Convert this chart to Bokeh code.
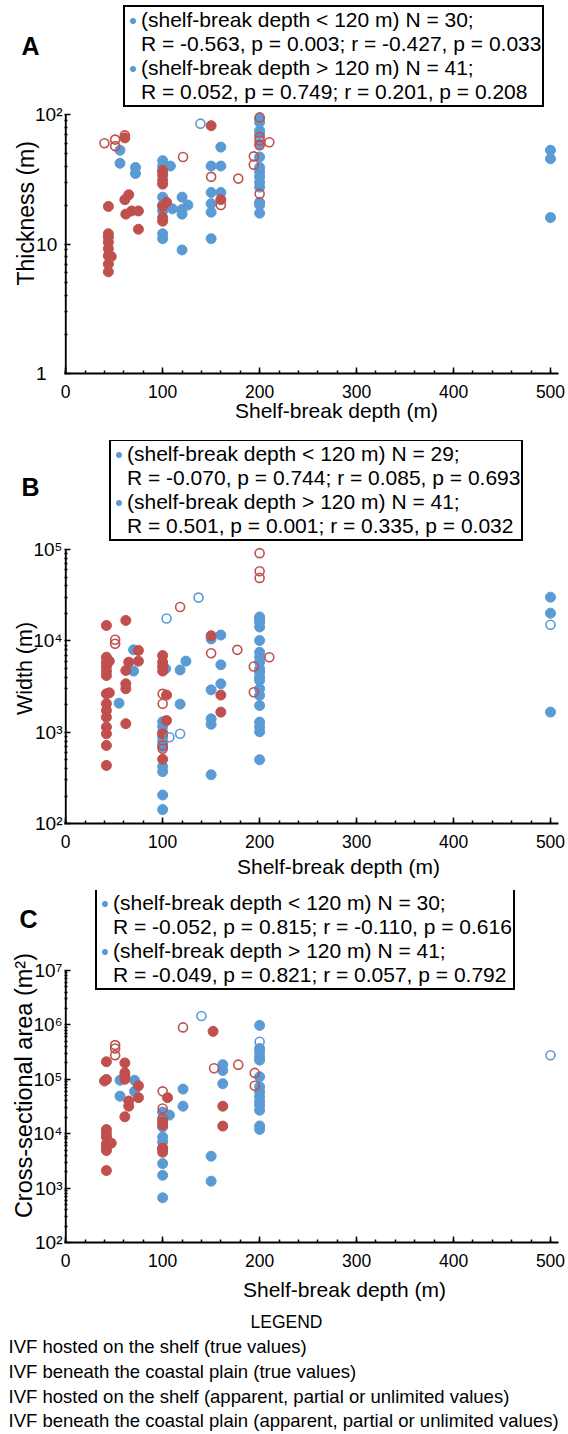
import math
from bokeh.plotting import figure
from bokeh.models import (Range1d, FixedTicker, Legend, LegendItem, Title, LogAxis,
                          CustomJSTickFormatter)
from bokeh.layouts import column
from bokeh.embed import file_html
from bokeh.resources import INLINE

BLUE = "#5B9BD5"
RED = "#C0504D"
FONT = "Liberation Sans"

# ---------------- Panel A: Thickness (m) ----------------
a_shelf_true_x = [56, 56, 72, 72, 100, 100, 100, 100, 100, 100, 100, 100, 108, 110,
                  120, 120, 120, 120, 126, 150, 150, 150, 150, 150, 160, 160, 160,
                  200, 200, 200, 200, 200, 200, 200, 200, 200, 200, 200, 200, 200, 200,
                  500, 500, 500]
a_shelf_true_y = [53, 42, 39, 35, 44, 40, 36, 23, 20, 18, 12, 11, 40, 18.7,
                  23, 17, 9, 18.5, 20, 40, 25, 20.5, 17.6, 11, 56, 40, 25,
                  93, 87, 75, 71, 59, 47, 39, 36, 33, 30, 27.5, 21, 20, 17.3,
                  53, 45.5, 16]
a_coast_true_x = [44, 44, 44, 44, 44, 44, 44, 44, 47, 61, 65, 61, 62, 68, 75, 75,
                  100, 100, 100, 100, 100, 100, 100, 104, 150, 160]
a_coast_true_y = [19.5, 12, 11.3, 10.3, 9.2, 8.1, 7.0, 6.1, 8, 66, 24, 22, 17, 18, 18, 13,
                  37, 34, 31, 29, 19.5, 16, 15, 21, 82, 22]
a_shelf_app_x = [139]
a_shelf_app_y = [85]
a_coast_app_x = [40, 51, 51, 61, 121, 150, 160, 178, 194, 194, 200, 200, 200, 200, 200, 210]
a_coast_app_y = [60, 64, 57, 69, 47, 33, 20, 32, 47.5, 41, 95, 67, 63, 58, 24.4, 61]

# ---------------- Panel B: Width (m) ----------------
b_shelf_true_x = [55, 70, 70, 100, 100, 100, 100, 100, 100, 100, 100, 100, 100,
                  103, 118, 118, 124, 150, 150, 150, 150, 150, 160, 160, 160,
                  200, 200, 200, 200, 200, 200, 200, 200, 200, 200, 200, 200, 200, 200,
                  200, 200, 200, 200, 200, 500, 500, 500]
b_shelf_true_y = [2080, 7980, 4670, 1300, 1150, 1000, 880, 780, 690, 420, 370, 205, 142,
                  4950, 4800, 2030, 6000, 10500, 2910, 1400, 1220, 342, 11600, 5470, 3390,
                  18300, 17450, 16100, 14200, 10100, 7520, 6630, 5850, 4950, 4540, 4000, 3680, 2990, 2530,
                  1960, 1290, 1140, 1010, 500, 30100, 20100, 1660]
b_coast_true_x = [42, 42, 42, 42, 42, 42, 42, 42, 42, 42, 42, 42, 42, 42, 45, 45,
                  62, 62, 62, 62, 62, 65, 75, 75, 100, 100, 100, 100, 100, 100, 104, 104,
                  150, 160, 160]
b_coast_true_y = [14750, 6630, 5850, 5250, 4670, 4180, 2630, 2050, 1730, 1460, 1140, 960, 716, 433, 6000, 2700,
                  16750, 4740, 3390, 2990, 1240, 5850, 7850, 6000, 6900, 5850, 5250, 4670, 960, 505, 2550, 1340,
                  11400, 2550, 1660]
b_shelf_app_x = [104, 107, 118, 137, 500]
b_shelf_app_y = [17600, 880, 960, 29800, 15000]
b_coast_app_x = [51, 51, 100, 100, 100, 100, 118, 150, 177, 194, 194, 200, 200, 200, 210]
b_coast_app_y = [10280, 9300, 2630, 2050, 716, 658, 23500, 7330, 7980, 5250, 2740, 91400, 58000, 49000, 6630]

# ---------------- Panel C: Cross-sectional area (m2) ----------------
c_shelf_true_x = [56, 56, 71, 71, 100, 100, 100, 100, 100, 100, 100, 100, 100, 107,
                  121, 121, 150, 150, 162, 162, 162,
                  200, 200, 200, 200, 200, 200, 200, 200, 200, 200, 200, 200, 200, 200]
c_shelf_true_y = [96000, 49000, 96000, 60000, 25000, 18900, 13300, 8700, 7050, 5300, 2820, 1720, 665, 22000,
                  66000, 32000, 3860, 1340, 186000, 145000, 83000,
                  980000, 369000, 320000, 260000, 225000, 111000, 73000, 59000, 48000, 39000, 33500, 27000, 13900, 12000]
c_coast_true_x = [42, 40, 42, 42, 42, 42, 42, 42, 42, 42, 47, 61, 61, 61, 61, 61, 65, 65, 75, 75,
                  100, 100, 100, 100, 105, 152, 162, 162]
c_coast_true_y = [210000, 93000, 99000, 11900, 10000, 8700, 6500, 5600, 4900, 2100, 6700,
                  200000, 132000, 115000, 100000, 20500, 40000, 32000, 76000, 46000,
                  16400, 14300, 5300, 4560, 46000, 760000, 32000, 13800]
c_shelf_app_x = [140, 200, 500]
c_shelf_app_y = [1460000, 490000, 276000]
c_coast_app_x = [51, 51, 51, 100, 100, 100, 100, 121, 153, 178, 195, 195]
c_coast_app_y = [425000, 369000, 278000, 60000, 29000, 18900, 5500, 900000, 160000, 186000, 131000, 76000]

x_tick_values = [0, 100, 200, 300, 400, 500]
x_minor_values = list(range(0, 501, 20))

a_legend = ["(shelf-break depth < 120 m) N = 30;",
            "R = -0.563, p = 0.003; r = -0.427, p = 0.033",
            "(shelf-break depth > 120 m) N = 41;",
            "R = 0.052, p = 0.749; r = 0.201, p = 0.208"]
b_legend = ["(shelf-break depth < 120 m) N = 29;",
            "R = -0.070, p = 0.744; r = 0.085, p = 0.693",
            "(shelf-break depth > 120 m) N = 41;",
            "R = 0.501, p = 0.001; r = 0.335, p = 0.032"]
c_legend = ["(shelf-break depth < 120 m) N = 30;",
            "R = -0.052, p = 0.815; r = -0.110, p = 0.616",
            "(shelf-break depth > 120 m) N = 41;",
            "R = -0.049, p = 0.821; r = 0.057, p = 0.792"]

x_title = "Shelf-break depth (m)"
bottom_title = "LEGEND"
bottom_legend = ["IVF hosted on the shelf (true values)",
                 "IVF beneath the coastal plain (true values)",
                 "IVF hosted on the shelf (apparent, partial or unlimited values)",
                 "IVF beneath the coastal plain (apparent, partial or unlimited values)"]

SUP = {2: "\u00b2", 3: "\u00b3", 4: "\u2074", 5: "\u2075", 6: "\u2076", 7: "\u2077"}

# ---------------- layout constants (pixels) ----------------
W = 568
FL, FR = 64, 558            # frame left / right
X0PX, X500PX = 65.2, 550.0  # where depth 0 and 500 land
PPU = (X500PX - X0PX) / 500.0
X_START = -(X0PX - FL) / PPU
X_END = (FR - X0PX) / PPU


def style_axis(ax):
    ax.axis_line_width = 2
    ax.axis_line_color = "black"
    ax.major_tick_in = 6
    ax.major_tick_out = 0
    ax.minor_tick_in = 3
    ax.minor_tick_out = 0
    ax.major_tick_line_width = 1.5
    ax.minor_tick_line_width = 1.5
    ax.major_tick_line_color = "black"
    ax.minor_tick_line_color = "black"
    ax.major_label_text_font = FONT
    ax.major_label_text_color = "black"


def side_title(text, size, valign, offset, standoff):
    return Title(text=text, align="left", vertical_align=valign, offset=offset,
                 standoff=standoff, text_font=FONT, text_font_size=size,
                 text_font_style="normal", text_color="black")


def panel(fig_top, fig_h, frame_bottom_abs, elo, ehi, ppd, overrides, series,
          legend_lines, box_left_abs, box_bottom_abs, letter, letter_abs_y,
          ytitle, ytitle_size, ytitle_bottom_abs, xtitle_left_abs, xtitle_valign, xtitle_standoff):
    frame_h = frame_bottom_abs - fig_top
    y_end = 10.0 ** (elo + frame_h / ppd)
    p = figure(width=W, height=fig_h, x_range=Range1d(X_START, X_END),
               y_range=Range1d(10.0 ** elo, y_end), y_axis_type="log",
               output_backend="svg", toolbar_location=None,
               min_border_left=FL, min_border_right=W - FR,
               min_border_top=0, min_border_bottom=fig_h - frame_h)
    p.outline_line_color = None
    p.grid.visible = False
    p.background_fill_color = "white"
    p.border_fill_color = "white"

    major = [10.0 ** e for e in range(elo, ehi + 1)]
    minor = [k * 10.0 ** e for e in range(elo, ehi) for k in range(2, 10)]
    xa, ya = p.xaxis[0], p.yaxis[0]
    style_axis(xa)
    style_axis(ya)
    ya.ticker = FixedTicker(ticks=major, minor_ticks=minor)
    ya.major_label_overrides = overrides
    ya.major_label_text_font_size = "19px"
    ya.major_label_standoff = 2
    ya.axis_line_color = None
    xa.ticker = FixedTicker(ticks=x_tick_values, minor_ticks=x_minor_values)
    xa.major_label_text_font_size = "17.5px"
    xa.major_label_standoff = 11

    # y axis line only over the data decades
    p.segment(x0=[0], y0=[10.0 ** elo], x1=[0], y1=[10.0 ** ehi],
              line_color="black", line_width=2)

    (sx, sy), (cx, cy), (sax, say), (cax, cay) = series
    shelf = p.scatter(sx, sy, size=10, fill_color=BLUE, line_color=BLUE)
    p.scatter(cx, cy, size=10, fill_color=RED, line_color=RED)
    p.scatter(sax, say, size=9, fill_color=None, line_color=BLUE, line_width=1.6)
    p.scatter(cax, cay, size=9, fill_color=None, line_color=RED, line_width=1.6)

    blank = p.scatter(x=[], y=[], fill_alpha=0, line_alpha=0)
    items = [LegendItem(label=legend_lines[i], renderers=[shelf if i % 2 == 0 else blank])
             for i in range(4)]
    leg = Legend(items=items,
                 location=(box_left_abs - FL, frame_bottom_abs - box_bottom_abs))
    leg.label_text_font = FONT
    leg.label_text_font_size = "21px"
    leg.label_text_color = "black"
    leg.border_line_color = "black"
    leg.border_line_width = 2
    leg.border_line_alpha = 1
    leg.background_fill_color = "white"
    leg.background_fill_alpha = 1
    leg.padding = 1
    leg.spacing = 0
    leg.margin = 0
    leg.glyph_width = 13
    leg.glyph_height = 23
    leg.label_height = 23
    leg.label_standoff = 2
    p.add_layout(leg)

    # y-axis title (left panel): text starts at its lower end, measured up from the frame bottom
    p.add_layout(side_title(ytitle, ytitle_size, "middle",
                            frame_bottom_abs - ytitle_bottom_abs, -14), "left")

    # panel letter as the only label of an extra (invisible) axis, outside the title
    y_letter = 10.0 ** (elo + (frame_bottom_abs - letter_abs_y) / ppd)
    la = LogAxis(ticker=FixedTicker(ticks=[y_letter], minor_ticks=[]),
                 formatter=CustomJSTickFormatter(code="return %r;" % letter))
    la.axis_line_color = None
    la.major_tick_line_color = None
    la.minor_tick_line_color = None
    la.major_label_standoff = -27
    la.major_label_text_font = FONT
    la.major_label_text_font_size = "25px"
    la.major_label_text_font_style = "bold"
    la.major_label_text_color = "black"
    p.add_layout(la, "left")

    # x-axis title (below panel), left edge given in page pixels
    p.add_layout(side_title(x_title, "21px", xtitle_valign,
                            xtitle_left_abs - FL, xtitle_standoff), "below")
    return p


pA = panel(0, 440, 373, 0, 2, 129.5,
           {1: "1\u2007\u2008", 10: "10\u2008", 100: "10\u00b2"},
           [(a_shelf_true_x, a_shelf_true_y), (a_coast_true_x, a_coast_true_y),
            (a_shelf_app_x, a_shelf_app_y), (a_coast_app_x, a_coast_app_y)],
           a_legend, 123, 107, "A", 45, "Thickness (m)", "23px", 285, 234.5, "middle", -6)

pB = panel(440, 450, 823, 2, 5, 91.3,
           {10.0 ** e: "10" + SUP[e] for e in range(2, 6)},
           [(b_shelf_true_x, b_shelf_true_y), (b_coast_true_x, b_coast_true_y),
            (b_shelf_app_x, b_shelf_app_y), (b_coast_app_x, b_coast_app_y)],
           b_legend, 109, 541, "B", 486, "Width (m)", "21.5px", 714.6, 236.5, "middle", 6)

pC = panel(890, 544, 1242, 2, 7, 54.4,
           {10.0 ** e: "10" + SUP[e] for e in range(2, 8)},
           [(c_shelf_true_x, c_shelf_true_y), (c_coast_true_x, c_coast_true_y),
            (c_shelf_app_x, c_shelf_app_y), (c_coast_app_x, c_coast_app_y)],
           c_legend, 95, 990, "C", 918, "Cross-sectional area (m\u00b2)", "23.5px", 1217.6,
           242.5, "top", 16)

# bottom legend texts, stacked below panel C's axis title
pC.add_layout(side_title(bottom_title, "17.5px", "top", 250 - FL, 2.15), "below")
for i, line in enumerate(bottom_legend):
    pC.add_layout(side_title(line, "18.5px", "top", 8 - FL,
                             2.3 if i < len(bottom_legend) - 1 else 1.3), "below")

layout = column(pA, pB, pC, spacing=0)
open("out.html", "w").write(file_html(layout, INLINE))
